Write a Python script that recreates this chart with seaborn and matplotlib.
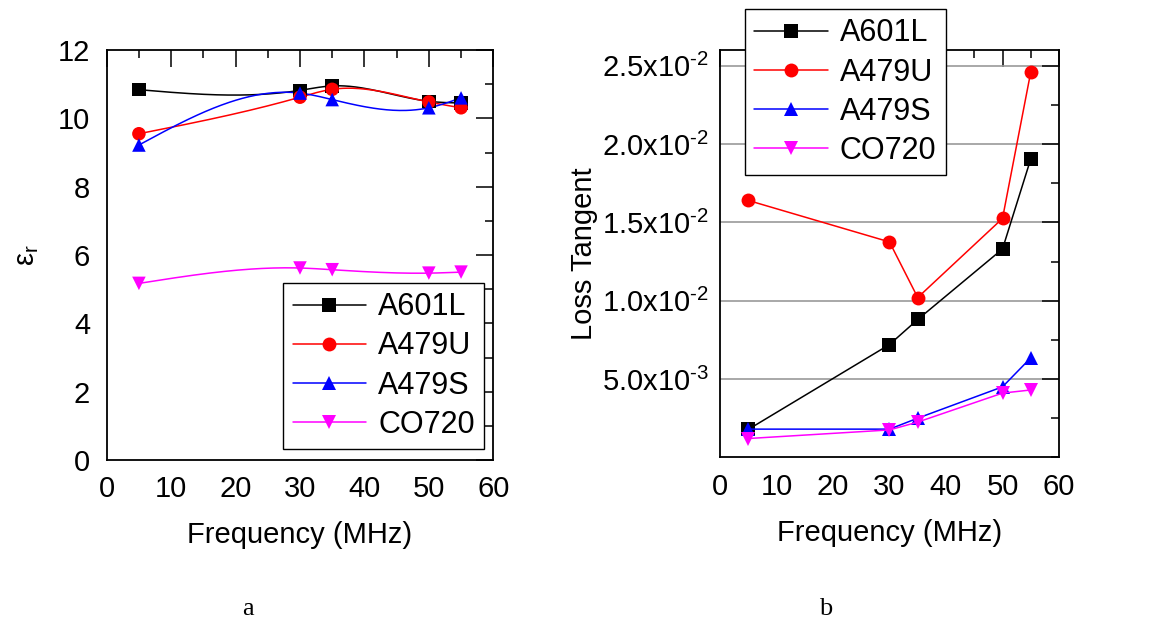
import numpy as np
import pandas as pd
import seaborn as sns
import matplotlib
matplotlib.use("Agg")
import matplotlib.pyplot as plt
from matplotlib.lines import Line2D
from matplotlib.ticker import MultipleLocator, FixedLocator, FuncFormatter

# data
freq = [5, 30, 35, 50, 55]
samples = ["A601L", "A479U", "A479S", "CO720"]
eps_r = {
    "A601L": [10.84, 10.82, 10.95, 10.50, 10.45],
    "A479U": [9.55, 10.62, 10.85, 10.48, 10.31],
    "A479S": [9.22, 10.74, 10.55, 10.31, 10.60],
    "CO720": [5.17, 5.62, 5.57, 5.47, 5.50],
}
loss_tan = {
    "A601L": [1.78e-3, 7.2e-3, 8.8e-3, 13.3e-3, 19.05e-3],
    "A479U": [16.4e-3, 13.75e-3, 10.2e-3, 15.25e-3, 24.6e-3],
    "A479S": [1.8e-3, 1.8e-3, 2.5e-3, 4.5e-3, 6.35e-3],
    "CO720": [1.2e-3, 1.75e-3, 2.25e-3, 4.1e-3, 4.3e-3],
}
colors = {"A601L": "black", "A479U": "red", "A479S": "blue", "CO720": "magenta"}
markers = {"A601L": "s", "A479U": "o", "A479S": "^", "CO720": "v"}

sns.set_theme(style="white")
plt.rcParams["font.family"] = ["Liberation Sans", "DejaVu Sans"]
plt.rcParams["mathtext.fontset"] = "custom"
plt.rcParams["mathtext.rm"] = "Liberation Sans"
plt.rcParams["mathtext.it"] = "Liberation Sans"
plt.rcParams["axes.unicode_minus"] = False
plt.rcParams["text.color"] = "black"
plt.rcParams["axes.labelcolor"] = "black"


def natural_spline(x, y, xs):
    # natural cubic spline used only to draw the smooth connecting curve
    x = np.asarray(x, float)
    y = np.asarray(y, float)
    n = len(x)
    h = np.diff(x)
    A = np.zeros((n, n))
    b = np.zeros(n)
    A[0, 0] = A[-1, -1] = 1
    for i in range(1, n - 1):
        A[i, i - 1] = h[i - 1]
        A[i, i] = 2 * (h[i - 1] + h[i])
        A[i, i + 1] = h[i]
        b[i] = 3 * ((y[i + 1] - y[i]) / h[i] - (y[i] - y[i - 1]) / h[i - 1])
    c = np.linalg.solve(A, b)
    out = np.empty_like(xs)
    for k, xv in enumerate(xs):
        i = min(max(np.searchsorted(x, xv) - 1, 0), n - 2)
        d = (c[i + 1] - c[i]) / (3 * h[i])
        bb = (y[i + 1] - y[i]) / h[i] - h[i] * (2 * c[i] + c[i + 1]) / 3
        t = xv - x[i]
        out[k] = y[i] + bb * t + c[i] * t ** 2 + d * t ** 3
    return out


fig = plt.figure(figsize=(11.56, 6.24), dpi=100)
ax1 = fig.add_axes([0.0923, 0.2628, 0.3344, 0.657])
ax2 = fig.add_axes([0.6228, 0.2671, 0.2933, 0.6527])

# a: dielectric constant, smooth curves
xs = np.linspace(freq[0], freq[-1], 200)
for s in samples:
    sns.lineplot(x=xs, y=natural_spline(freq, eps_r[s], xs), color=colors[s], lw=1.1, ax=ax1)
    sns.scatterplot(x=freq, y=eps_r[s], color=colors[s], marker=markers[s], s=95,
                    edgecolor="none", ax=ax1, zorder=3)

# b: loss tangent, straight segments
df = pd.DataFrame([(s, f, v) for s in samples for f, v in zip(freq, loss_tan[s])],
                  columns=["Sample", "Frequency", "tan"])
sns.lineplot(data=df, x="Frequency", y="tan", hue="Sample", style="Sample",
             palette=colors, markers=markers, dashes=False, lw=1.1,
             markersize=10, markeredgewidth=0, legend=False, ax=ax2)

handles = [Line2D([], [], color=colors[s], marker=markers[s], lw=1.1,
                  markersize=10, markeredgewidth=0) for s in samples]

for ax in (ax1, ax2):
    ax.set_xlim(0, 60)
    ax.xaxis.set_major_locator(MultipleLocator(10))
    ax.xaxis.set_minor_locator(MultipleLocator(5))
    ax.tick_params(which="both", direction="in", top=True, right=True, width=1.1,
                   labelsize=21, colors="black", labelcolor="black")
    ax.tick_params(axis="x", which="both", pad=11)
    ax.tick_params(which="major", length=12)
    ax.tick_params(which="minor", length=6)
    for sp in ax.spines.values():
        sp.set_color("black")
        sp.set_linewidth(1.3)
    ax.set_xlabel("Frequency (MHz)", fontsize=21, labelpad=13)

ax1.set_ylim(0, 12)
ax1.yaxis.set_major_locator(MultipleLocator(2))
ax1.yaxis.set_minor_locator(MultipleLocator(1))
ax1.tick_params(axis="y", which="both", pad=12)
ax1.set_ylabel(r"ε$_\mathregular{r}$", fontsize=21, labelpad=12)
ax1.legend(handles, samples, loc="lower right", bbox_to_anchor=(0.976, 0.027),
           borderaxespad=0, fontsize=22, handlelength=2.4, labelspacing=0.3,
           handletextpad=0.4, borderpad=0.3, fancybox=False, framealpha=1,
           edgecolor="black")

ax2.set_ylim(0, 0.026)
ax2.yaxis.set_major_locator(FixedLocator([5e-3, 1e-2, 1.5e-2, 2e-2, 2.5e-2]))
ax2.yaxis.set_minor_locator(MultipleLocator(2.5e-3))


def sci(v, pos):
    m, e = f"{v:.1e}".split("e")
    return m + "x10$^{\u2010" + str(abs(int(e))) + "}$"


ax2.yaxis.set_major_formatter(FuncFormatter(sci))
ax2.tick_params(axis="y", which="both", pad=8)
ax2.grid(axis="y", which="major", color="#999999", lw=1.2)
ax2.set_axisbelow(True)
ax2.set_ylabel("Loss Tangent", fontsize=21, labelpad=3)
leg = ax2.legend(handles, samples, loc="upper left", bbox_to_anchor=(0.074, 1.10),
                 borderaxespad=0, fontsize=22, handlelength=2.4, labelspacing=0.3,
                 handletextpad=0.4, borderpad=0.3, fancybox=False, framealpha=1,
                 edgecolor="black")
leg.set_zorder(10)

fig.text(0.2145, 0.015, "a", family="Liberation Serif", fontsize=19, ha="center")
fig.text(0.7145, 0.015, "b", family="Liberation Serif", fontsize=19, ha="center")

fig.savefig("out.png", dpi=100)
